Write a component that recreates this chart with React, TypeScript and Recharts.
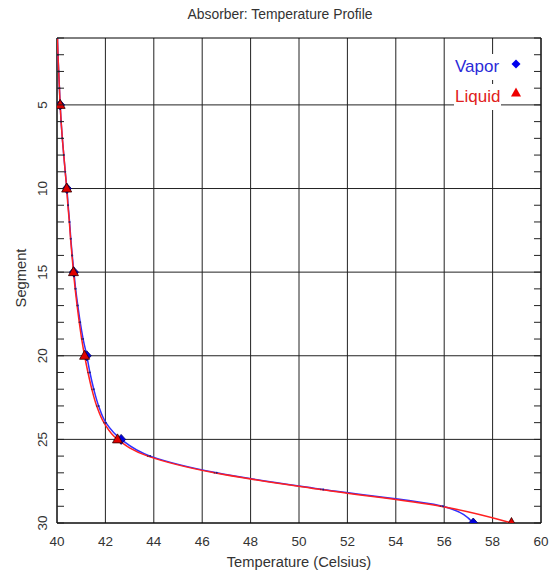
import React from 'react';
import {
  LineChart,
  Line,
  XAxis,
  YAxis,
  CartesianGrid,
  ReferenceArea,
  Legend,
} from 'recharts';

const segments = [
  1, 2, 3, 4, 5, 6, 7, 8, 9, 10, 11, 12, 13, 14, 15,
  16, 17, 18, 19, 20, 21, 22, 23, 24, 25, 26, 27, 28, 29, 30,
];
const vaporTemp = [
  40.02, 40.04, 40.07, 40.1, 40.13, 40.17, 40.22, 40.28, 40.34, 40.41,
  40.46, 40.52, 40.57, 40.63, 40.7, 40.77, 40.86, 40.96, 41.08, 41.23,
  41.36, 41.52, 41.72, 42.02, 42.65, 43.85, 46.6, 51.0, 55.95, 57.2,
];
const liquidTemp = [
  40.02, 40.04, 40.07, 40.1, 40.13, 40.17, 40.22, 40.28, 40.34, 40.4,
  40.45, 40.51, 40.56, 40.62, 40.68, 40.75, 40.83, 40.92, 41.02, 41.14,
  41.28, 41.44, 41.64, 41.94, 42.5, 43.75, 46.5, 50.9, 55.85, 58.78,
];
const tempTicks = [40, 42, 44, 46, 48, 50, 52, 54, 56, 58, 60];
const segmentTicks = [5, 10, 15, 20, 25, 30];

const data = segments.map((seg, i) => ({
  seg,
  vapor: vaporTemp[i],
  liquid: liquidTemp[i],
}));

const FONT = '"Liberation Sans", Arial, sans-serif';
const TEXT = '#333';
// plot edges (margin.left + YAxis width, width - margin.right)
const PLOT_L = 57;
const PLOT_R = 541;

const TempTick = (props: any) => (
  <text x={props.x} y={546} textAnchor="middle" fontSize={13.5} fill={TEXT} fontFamily={FONT}>
    {props.payload.value}
  </text>
);

// every segment gets a small inward tick on both sides, labels only every 5
const SegTick = (props: any) => {
  const { y, payload } = props;
  const v = payload.value;
  return (
    <g>
      <line x1={PLOT_L} x2={PLOT_L + 7} y1={y} y2={y} stroke="#222" />
      <line x1={PLOT_R - 7} x2={PLOT_R} y1={y} y2={y} stroke="#222" />
      {segmentTicks.includes(v) && (
        <text
          x={47}
          y={y}
          transform={`rotate(-90, 47, ${y})`}
          textAnchor="middle"
          fontSize={13.5}
          fill={TEXT}
          fontFamily={FONT}
        >
          {v}
        </text>
      )}
    </g>
  );
};

const vaporDot = (p: any) => {
  const { cx, cy, payload, index } = p;
  if (payload.seg % 5 === 0) {
    return (
      <polygon
        key={`v${index}`}
        points={`${cx},${cy - 5} ${cx + 4.5},${cy} ${cx},${cy + 5} ${cx - 4.5},${cy}`}
        fill="#0000dd"
        stroke="#000060"
        strokeWidth={0.8}
      />
    );
  }
  return <circle key={`v${index}`} cx={cx} cy={cy} r={1} fill="#202080" />;
};

const liquidDot = (p: any) => {
  const { cx, cy, payload, index } = p;
  if (payload.seg % 5 === 0) {
    return (
      <polygon
        key={`l${index}`}
        points={`${cx},${cy - 5.5} ${cx + 5},${cy + 3.5} ${cx - 5},${cy + 3.5}`}
        fill="#e00000"
        stroke="#300000"
        strokeWidth={0.8}
      />
    );
  }
  return <circle key={`l${index}`} cx={cx} cy={cy} r={0.8} fill="#602040" />;
};

const LegendBox = () => (
  <div style={{ position: 'relative', width: 80, height: 60, fontFamily: FONT, fontSize: 17 }}>
    <div
      style={{
        position: 'absolute', left: 0, top: 0, height: 26, lineHeight: '26px',
        background: '#fff', color: '#2a2ad8', padding: '0 1px',
      }}
    >
      Vapor
    </div>
    <svg style={{ position: 'absolute', left: 56, top: 4 }} width={12} height={12}>
      <polygon points="6,1.5 10.5,6 6,10.5 1.5,6" fill="#0000ee" />
    </svg>
    <div
      style={{
        position: 'absolute', left: 0, top: 30, height: 26, lineHeight: '26px',
        background: '#fff', color: '#e02020', padding: '0 1px',
      }}
    >
      Liquid
    </div>
    <svg style={{ position: 'absolute', left: 56, top: 32 }} width={12} height={12}>
      <polygon points="6,1.5 11,10.5 1,10.5" fill="#ee0000" />
    </svg>
  </div>
);

export default function App() {
  return (
    <div style={{ position: 'absolute', left: 0, top: 0, width: 557, height: 573, background: '#fff' }}>
      <div
        style={{
          position: 'absolute', left: 0, top: 6, width: 560, textAlign: 'center',
          fontFamily: FONT, fontSize: 13.9, lineHeight: '16px', color: TEXT,
        }}
      >
        Absorber: Temperature Profile
      </div>
      <LineChart
        width={557}
        height={573}
        data={data}
        layout="vertical"
        margin={{ top: 38, right: 16, bottom: 0, left: 0 }}
      >
        <CartesianGrid stroke="#222" strokeWidth={1} horizontalValues={segmentTicks} />
        <XAxis
          type="number"
          domain={[40, 60]}
          ticks={tempTicks}
          allowDataOverflow
          tickLine={false}
          axisLine={false}
          height={50}
          tick={TempTick}
          label={{
            content: () => (
              <text x={299} y={567} textAnchor="middle" fontSize={14.7} fill={TEXT} fontFamily={FONT}>
                Temperature (Celsius)
              </text>
            ),
          }}
        />
        <YAxis
          type="number"
          dataKey="seg"
          domain={[1, 30]}
          ticks={segments}
          interval={0}
          allowDataOverflow
          tickLine={false}
          axisLine={false}
          width={PLOT_L}
          tick={SegTick}
          label={{
            content: () => (
              <text x={26} y={278} transform="rotate(-90, 26, 278)" textAnchor="middle" fontSize={14.7} fill={TEXT} fontFamily={FONT}>
                Segment
              </text>
            ),
          }}
        />
        <ReferenceArea x1={40} x2={60} y1={1} y2={30} fill="none" stroke="#000" strokeWidth={1} ifOverflow="visible" />
        <Line
          dataKey="vapor"
          type="monotone"
          stroke="#3030ff"
          strokeWidth={1.5}
          dot={vaporDot}
          isAnimationActive={false}
        />
        <Line
          dataKey="liquid"
          type="monotone"
          stroke="#ff2020"
          strokeWidth={1.5}
          dot={liquidDot}
          isAnimationActive={false}
        />
        <Legend
          layout="horizontal"
          verticalAlign="middle"
          align="center"
          content={LegendBox}
          wrapperStyle={{ left: 454, top: 54, width: 80, height: 60 }}
        />
      </LineChart>
    </div>
  );
}
